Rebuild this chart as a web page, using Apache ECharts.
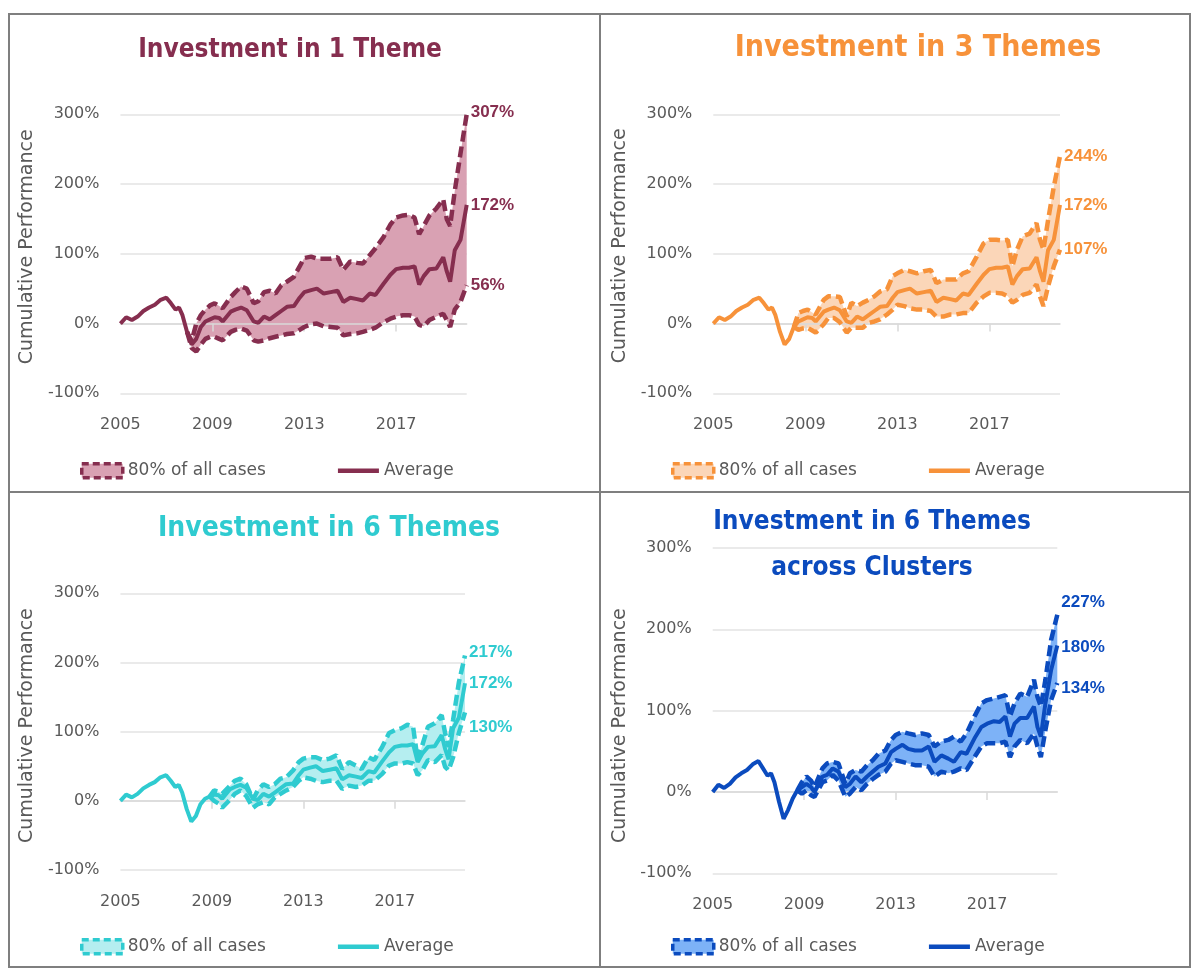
<!DOCTYPE html>
<html>
<head>
<meta charset="utf-8">
<script src="https://cdn.jsdelivr.net/npm/echarts@6/dist/echarts.min.js"></script>
<style>
  html, body { margin: 0; padding: 0; background: #fff; }
  .cell { position: absolute; }
  .rule { position: absolute; background: #7f7f7f; }
</style>
</head>
<body>
<div class="rule" style="left:8px;top:13px;width:1183px;height:2px"></div>
<div class="rule" style="left:8px;top:966px;width:1183px;height:2px"></div>
<div class="rule" style="left:8px;top:13px;width:2px;height:955px"></div>
<div class="rule" style="left:1189px;top:13px;width:2px;height:955px"></div>
<div class="rule" style="left:599px;top:13px;width:2px;height:955px"></div>
<div class="rule" style="left:8px;top:491px;width:1183px;height:2px"></div>

<div id="p1" class="cell" style="left:10px;top:15px;width:589px;height:476px"></div>
<div id="p2" class="cell" style="left:601px;top:15px;width:588px;height:476px"></div>
<div id="p3" class="cell" style="left:10px;top:493px;width:589px;height:473px"></div>
<div id="p4" class="cell" style="left:601px;top:493px;width:588px;height:473px"></div>

<script>
// time axis (fractional years), shared by all four panels
const dates = [2005.0, 2005.25, 2005.5, 2005.75, 2006.0, 2006.25, 2006.5, 2006.75, 2007.0, 2007.2,
  2007.4, 2007.55, 2007.7, 2007.9, 2008.1, 2008.3, 2008.5, 2008.7, 2008.9, 2009.1,
  2009.3, 2009.45, 2009.8, 2010.0, 2010.25, 2010.5, 2010.8, 2011.0, 2011.25, 2011.5,
  2011.75, 2012.0, 2012.25, 2012.55, 2012.8, 2013.0, 2013.3, 2013.55, 2013.85, 2014.15,
  2014.45, 2014.7, 2015.0, 2015.3, 2015.55, 2015.85, 2016.1, 2016.45, 2016.75, 2017.0,
  2017.3, 2017.55, 2017.8, 2018.0, 2018.2, 2018.45, 2018.75, 2019.05, 2019.2, 2019.35,
  2019.55, 2019.8, 2020.07];
const xTickYears = [2005, 2009, 2013, 2017];
const xMarkYears = [2009, 2013, 2017];

// average performance (%), panels 1-3 share the same average
const avgBase = [0, 9, 5, 10, 18, 23, 27, 34, 37, 29, 20, 23, 12, -12, -30, -22, -5, 3, 6, 9,
  8, 3, 17, 20, 23, 19, 3, 1, 10, 6, 12, 18, 24, 25, 37, 45, 48, 50, 43, 45,
  47, 31, 37, 35, 33, 43, 41, 57, 70, 78, 80, 80, 82, 56, 68, 78, 79, 95, 75, 60,
  105, 120, 170];
const avgClusters = [0, 9, 5, 10, 18, 23, 27, 34, 38, 29, 20, 23, 12, -12, -33, -22, -8, 2, 6, 10,
  6, 0, 19, 21, 29, 25, 6, 10, 19, 12, 19, 25, 31, 35, 49, 53, 58, 53, 51, 51,
  56, 37, 45, 41, 37, 49, 47, 66, 80, 84, 87, 86, 93, 68, 84, 91, 91, 105, 80, 68,
  109, 150, 180];

// 80% band, values start at index *Start (earlier points have no band)
const p1Start = 13;
const p1Upper = [-12, -25, 0, 12, 20, 26, 29, 25, 22, 38, 45, 53, 50, 29, 32, 45, 47, 43, 55, 60,
  67, 82, 94, 96, 93, 93, 93, 95, 77, 89, 87, 86, 98, 108, 124, 142, 152, 155, 156, 152,
  128, 140, 155, 165, 178, 150, 140, 190, 244, 300];
const p1Lower = [-12, -35, -40, -30, -22, -19, -19, -22, -24, -12, -9, -7, -10, -24, -26, -24, -21, -19, -17, -15,
  -14, -9, -5, -1, 0, -4, -5, -6, -17, -15, -14, -12, -9, -6, 2, 7, 10, 12, 12, 10,
  -2, -4, 5, 10, 14, 5, -5, 20, 31, 55];

const p2Start = 16;
const p2Upper = [-5, 15, 18, 20, 16, 13, 34, 39, 39, 38, 10, 30, 25, 30, 34, 39, 46, 49, 68, 72,
  77, 75, 72, 75, 77, 58, 63, 63, 63, 72, 75, 96, 115, 120, 120, 119, 120, 82, 106, 125,
  129, 144, 120, 106, 148, 196, 240];
const p2Lower = [-5, -9, -7, -6, -10, -13, -1, 8, 8, 2, -13, -6, -6, -6, 1, 3, 6, 13, 20, 27,
  25, 22, 20, 20, 18, 10, 10, 13, 13, 15, 15, 30, 39, 44, 44, 43, 39, 30, 34, 41,
  44, 56, 39, 25, 53, 82, 106];

const p3Start = 18;
const p3Upper = [6, 15, 13, 10, 22, 29, 32, 24, 2, 15, 24, 20, 24, 32, 34, 44, 56, 61, 63, 63,
  59, 61, 66, 46, 56, 51, 46, 63, 59, 78, 98, 102, 105, 110, 107, 59, 80, 107, 112, 124,
  98, 78, 117, 171, 210];
const p3Lower = [6, 0, -4, -10, 2, 10, 15, 7, -10, -5, -2, -5, 5, 10, 15, 20, 29, 34, 32, 29,
  27, 29, 29, 17, 22, 20, 22, 29, 29, 39, 51, 54, 54, 56, 54, 37, 44, 59, 56, 66,
  49, 44, 63, 98, 128];

const p4Start = 17;
const p4Upper = [2, 12, 19, 14, 6, 29, 35, 37, 35, 10, 23, 27, 25, 33, 39, 47, 51, 64, 70, 74,
  72, 70, 72, 70, 56, 62, 64, 68, 62, 72, 93, 109, 113, 115, 117, 119, 93, 109, 121, 117,
  138, 117, 105, 138, 187, 218];
const p4Lower = [2, -2, 2, -4, -6, 12, 14, 21, 14, -6, -2, 6, 2, 10, 16, 21, 25, 35, 39, 37,
  35, 33, 33, 31, 19, 25, 23, 25, 29, 27, 43, 56, 60, 60, 60, 62, 43, 56, 64, 60,
  72, 56, 43, 76, 113, 134];

// end labels: upper, average, lower
const p1EndLabels = ['307%', '172%', '56%'];
const p2EndLabels = ['244%', '172%', '107%'];
const p3EndLabels = ['217%', '172%', '130%'];
const p4EndLabels = ['227%', '180%', '134%'];

const AXIS_FONT = '"DejaVu Sans", sans-serif';
const TITLE_FONT = '"Liberation Sans Narrow", "DejaVu Sans Condensed", "Liberation Sans", sans-serif';
const LABEL_FONT = '"Liberation Sans", Arial, sans-serif';
const GREY = '#595959';

function padFront(start, arr) {
  return new Array(start).fill(null).concat(arr);
}

function pairs(vals) {
  return dates.map((d, i) => [d, vals[i]]);
}

// filled 80% band: one polygon, upper edge forward then lower edge back
function bandSeries(p, upper, lower) {
  const band = [];
  dates.forEach((d, i) => {
    if (upper[i] != null && lower[i] != null) band.push([d, lower[i], upper[i]]);
  });
  return {
    name: '80% of all cases', type: 'custom', z: 1, silent: true,
    itemStyle: { color: p.fill },
    encode: { x: 0, y: [1, 2] },
    data: band,
    renderItem: (params, api) => {
      if (params.dataIndex !== 0) return null;
      const top = band.map(b => api.coord([b[0], b[2]]));
      const bottom = band.map(b => api.coord([b[0], b[1]])).reverse();
      return { type: 'polygon', shape: { points: top.concat(bottom) }, style: { fill: p.fill } };
    }
  };
}

function buildOption(p) {
  const upper = padFront(p.start, p.upper);
  const lower = padFront(p.start, p.lower);

  function endLabel(text, dy) {
    return {
      show: true, formatter: () => text, color: p.color, fontFamily: LABEL_FONT,
      fontWeight: 'bold', fontSize: 17, distance: 4, offset: [0, dy]
    };
  }

  return {
    animation: false,
    title: {
      text: p.title, left: p.titleX, top: p.titleY, textAlign: 'center',
      textStyle: { color: p.color, fontFamily: TITLE_FONT, fontWeight: 'bold', fontSize: p.titleSize, lineHeight: 46 }
    },
    legend: {
      left: p.legendX, top: p.legendY, padding: 0, itemWidth: 41, itemHeight: 14, itemGap: 72,
      selectedMode: false,
      textStyle: { color: GREY, fontFamily: AXIS_FONT, fontSize: 17 },
      data: [
        { name: '80% of all cases', icon: 'rect',
          itemStyle: { color: p.fill, borderColor: p.color, borderWidth: 3.5, borderType: [7, 4] } },
        { name: 'Average', icon: 'path://M0,0 L41,0 L41,4.5 L0,4.5 Z',
          itemStyle: { color: p.color, borderWidth: 0 } }
      ]
    },
    grid: p.grid,
    xAxis: [
      {
        type: 'value', min: 2005, max: 2020.07,
        axisLine: { show: false, onZero: false }, axisTick: { show: false }, splitLine: { show: false },
        axisLabel: { customValues: xTickYears, formatter: v => String(v), margin: 24,
          color: GREY, fontFamily: AXIS_FONT, fontSize: 16 }
      },
      {
        type: 'value', min: 2005, max: 2020.07, position: 'bottom', z: 2,
        axisLine: { show: true, onZero: true, lineStyle: { color: '#D9D9D9', width: 1.5 } },
        axisTick: { show: true, customValues: xMarkYears, length: 8, lineStyle: { color: '#D9D9D9', width: 1.5 } },
        axisLabel: { show: false }, splitLine: { show: false }
      }
    ],
    yAxis: {
      type: 'value', min: -100, max: 300, interval: 100,
      axisLine: { show: false }, axisTick: { show: false },
      splitLine: { lineStyle: { color: '#E3E3E3', width: 1.5 } },
      axisLabel: { formatter: '{value}%', margin: 21, color: GREY, fontFamily: AXIS_FONT, fontSize: 16 },
      name: 'Cumulative Performance', nameLocation: 'middle', nameGap: 75,
      nameTextStyle: { color: GREY, fontFamily: AXIS_FONT, fontSize: 19, padding: p.namePad }
    },
    series: [
      bandSeries(p, upper, lower),
      { name: 'upperBand', type: 'line', data: pairs(upper), symbol: 'none', z: 3, silent: true,
        lineStyle: { color: p.color, width: 4.5, type: [11, 5] }, endLabel: endLabel(p.labels[0], p.labelDy[0]) },
      { name: 'lowerBand', type: 'line', data: pairs(lower), symbol: 'none', z: 3, silent: true,
        lineStyle: { color: p.color, width: 4.5, type: [11, 5] }, endLabel: endLabel(p.labels[2], p.labelDy[2]) },
      { name: 'Average', type: 'line', data: pairs(p.avg), symbol: 'none', z: 4, silent: true,
        itemStyle: { color: p.color }, lineStyle: { color: p.color, width: 4 },
        endLabel: endLabel(p.labels[1], p.labelDy[1]) }
    ]
  };
}

const panels = [
  { id: 'p1', title: 'Investment in 1 Theme', color: '#862E4F', fill: '#D9A1B3',
    avg: avgBase, start: p1Start, upper: p1Upper, lower: p1Lower,
    labels: p1EndLabels, labelDy: [-2, 0, 0], titleSize: 26,
    titleX: 275, titleY: 7, legendX: 70, legendY: 447, namePad: [0, 0, 0, 14],
    grid: { left: 109.3, top: 99.3, width: 347.4, height: 279 } },
  { id: 'p2', title: 'Investment in 3 Themes', color: '#F7923A', fill: '#FBD6B8',
    avg: avgBase, start: p2Start, upper: p2Upper, lower: p2Lower,
    labels: p2EndLabels, labelDy: [0, 0, 0], titleSize: 30,
    titleX: 312, titleY: 5, legendX: 70, legendY: 447, namePad: [0, 0, 0, 16],
    grid: { left: 112.3, top: 99.3, width: 346.7, height: 279 } },
  { id: 'p3', title: 'Investment in 6 Themes', color: '#2FCBD0', fill: '#B5EEF0',
    avg: avgBase, start: p3Start, upper: p3Upper, lower: p3Lower,
    labels: p3EndLabels, labelDy: [-3, 0, 15], titleSize: 28,
    titleX: 314, titleY: 8, legendX: 70, legendY: 445, namePad: [0, 0, 0, 12],
    grid: { left: 109.3, top: 100.3, width: 345.7, height: 276.7 } },
  { id: 'p4', title: 'Investment in 6 Themes\nacross Clusters', color: '#0B4BBE', fill: '#7DB2F7',
    avg: avgClusters, start: p4Start, upper: p4Upper, lower: p4Lower,
    labels: p4EndLabels, labelDy: [-12, 2, 5], titleSize: 26,
    titleX: 266, titleY: 1, legendX: 70, legendY: 445, namePad: [0, 30, 0, 0],
    grid: { left: 111.7, top: 55, width: 344.6, height: 325.3 } }
];

panels.forEach(p => {
  const chart = echarts.init(document.getElementById(p.id));
  chart.setOption(buildOption(p));
});
</script>
</body>
</html>
